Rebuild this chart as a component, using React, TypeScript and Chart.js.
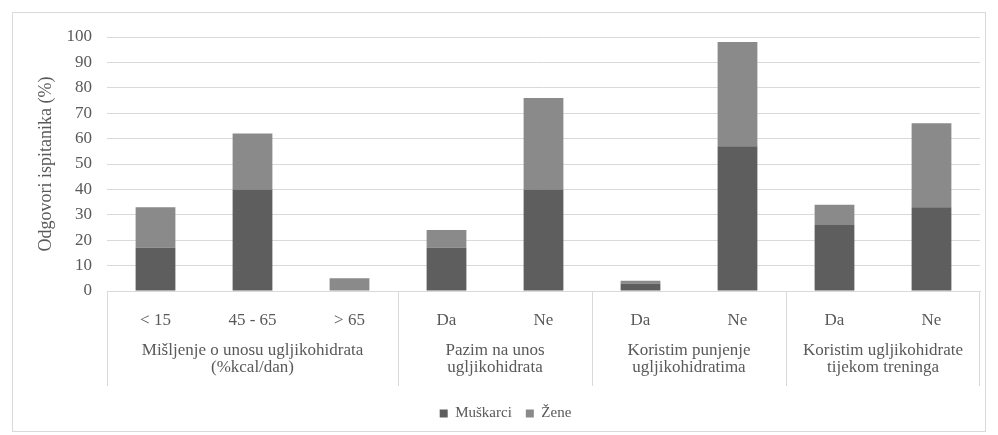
import { useEffect, useRef } from "react";
import { Chart, registerables } from "chart.js";

Chart.register(...registerables);

const categories = ["< 15", "45 - 65", "> 65", "Da", "Ne", "Da", "Ne", "Da", "Ne"];
const groupLabels = [
  ["Mišljenje o unosu ugljikohidrata", "(%kcal/dan)"],
  ["Pazim na unos", "ugljikohidrata"],
  ["Koristim punjenje", "ugljikohidratima"],
  ["Koristim ugljikohidrate", "tijekom treninga"],
];
const groupSizes = [3, 2, 2, 2];
const muskarci = [17, 40, 0, 17, 40, 3, 57, 26, 33];
const zene = [16, 22, 5, 7, 36, 1, 41, 8, 33];
const seriesNames = ["Muškarci", "Žene"];
const yMax = 100;
const yStep = 10;

const FONT = "'Liberation Serif', 'Times New Roman', serif";
const TEXT = "#595959";
const GRID = "#d9d9d9";

const framePlugin = {
  id: "frame",
  beforeDraw(chart: any) {
    const { ctx, width, height } = chart;
    ctx.save();
    ctx.fillStyle = "#ffffff";
    ctx.fillRect(0, 0, width, height);
    ctx.strokeStyle = GRID;
    ctx.lineWidth = 1;
    ctx.strokeRect(12.5, 12.5, width - 25, height - 16);
    ctx.restore();
  },
};

const groupAxisPlugin = {
  id: "groupAxis",
  afterDraw(chart: any) {
    const { ctx } = chart;
    const x = chart.scales.x;
    const top = chart.chartArea.bottom;
    const n = categories.length;
    const w = (x.right - x.left) / n;
    ctx.save();
    ctx.strokeStyle = GRID;
    ctx.lineWidth = 1;
    ctx.fillStyle = TEXT;
    ctx.font = `17px ${FONT}`;
    ctx.textAlign = "center";
    ctx.textBaseline = "middle";
    let idx = 0;
    groupSizes.forEach((size, g) => {
      const left = x.getPixelForValue(idx) - w / 2;
      const right = x.getPixelForValue(idx + size - 1) + w / 2;
      const lx = Math.round(left) + 0.5;
      ctx.beginPath();
      ctx.moveTo(lx, top);
      ctx.lineTo(lx, top + 95);
      ctx.stroke();
      if (g === groupSizes.length - 1) {
        const rx = Math.round(right) - 0.5;
        ctx.beginPath();
        ctx.moveTo(rx, top);
        ctx.lineTo(rx, top + 95);
        ctx.stroke();
      }
      const cx = (left + right) / 2;
      groupLabels[g].forEach((line, i) => {
        ctx.fillText(line, cx, top + 60 + i * 17);
      });
      idx += size;
    });
    ctx.restore();
  },
};

export default function App() {
  const ref = useRef<HTMLCanvasElement>(null);
  useEffect(() => {
    const canvas = ref.current;
    if (!canvas) return;
    const chart = new Chart(canvas, {
      type: "bar",
      data: {
        labels: categories,
        datasets: [
          { label: seriesNames[0], data: muskarci, backgroundColor: "#5e5e5e", barPercentage: 0.41, categoryPercentage: 1 },
          { label: seriesNames[1], data: zene, backgroundColor: "#8a8a8a", barPercentage: 0.41, categoryPercentage: 1 },
        ],
      },
      options: {
        responsive: false,
        animation: false,
        layout: { padding: { left: 31, right: 18, top: 37, bottom: 4 } },
        plugins: {
          tooltip: { enabled: false },
          legend: {
            position: "bottom",
            labels: {
              boxWidth: 8,
              boxHeight: 8,
              padding: 14,
              color: TEXT,
              font: { family: FONT, size: 15 },
            },
          },
        },
        scales: {
          x: {
            stacked: true,
            grid: { display: false, drawTicks: false },
            border: { display: true, color: GRID },
            ticks: { color: TEXT, font: { family: FONT, size: 17 }, padding: 19, maxRotation: 0, autoSkip: false },
            afterFit(scale: any) {
              scale.height = 101;
            },
          },
          y: {
            stacked: true,
            min: 0,
            max: yMax,
            grid: { color: GRID, drawTicks: false },
            border: { display: false },
            ticks: { stepSize: yStep, color: TEXT, font: { family: FONT, size: 17 }, padding: 15 },
            title: { display: true, text: "Odgovori ispitanika (%)", color: TEXT, font: { family: FONT, size: 18 }, padding: 4 },
            afterFit(scale: any) {
              scale.width = 76;
            },
          },
        },
      },
      plugins: [framePlugin, groupAxisPlugin],
    });
    return () => chart.destroy();
  }, []);
  return (
    <div style={{ position: "absolute", left: 0, top: 0, width: 998, height: 435 }}>
      <canvas ref={ref} width={998} height={435} style={{ width: 998, height: 435 }} />
    </div>
  );
}
